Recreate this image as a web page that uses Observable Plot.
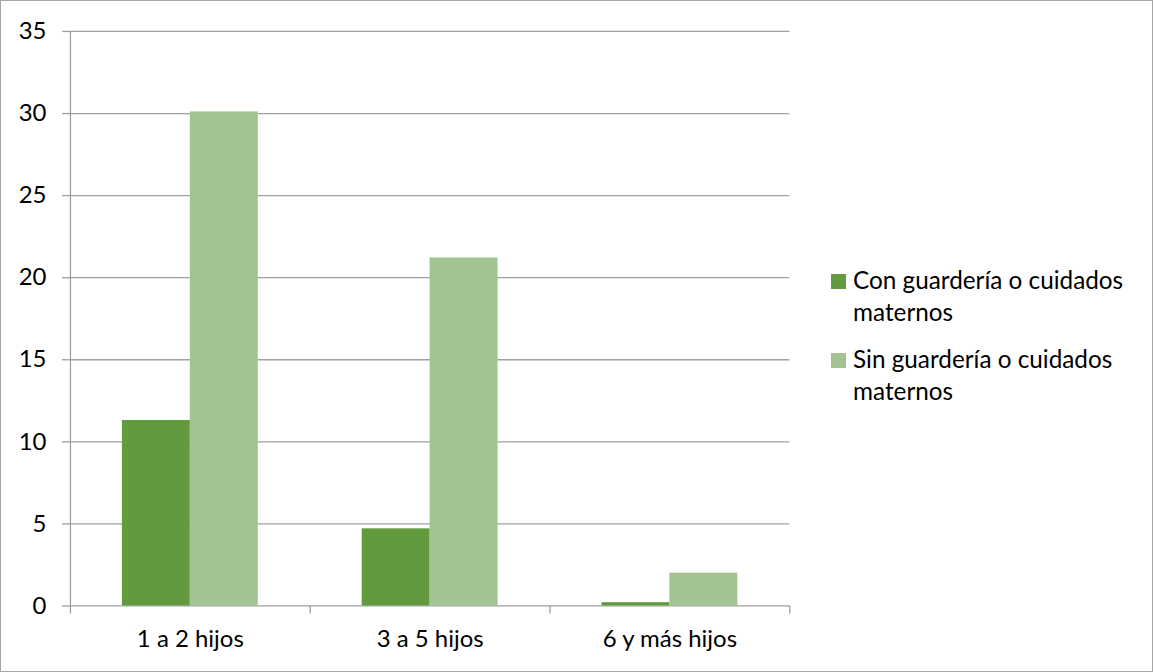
<!DOCTYPE html>
<html>
<head>
<meta charset="utf-8">
<script src="https://cdn.jsdelivr.net/npm/d3@7"></script>
<script src="https://cdn.jsdelivr.net/npm/@observablehq/plot@0.6"></script>
<style>
  html, body { margin: 0; padding: 0; background: #fff; }
  #wrap { position: relative; width: 1153px; height: 672px; box-sizing: border-box; border: 1px solid #a6a6a6; overflow: hidden; }
  #chart { position: absolute; left: -1px; top: -1px; }
  #legend { position: absolute; left: 830px; top: 263px; font-family: Lato, "Open Sans", sans-serif; font-size: 24.3px; color: #000; }
  .item { display: flex; align-items: flex-start; margin-bottom: 15px; }
  .sw { width: 15px; height: 15px; margin-right: 7px; margin-top: 10px; flex: none; }
  .lab { line-height: 32px; width: 310px; }
</style>
</head>
<body>
<div id="wrap"><div id="chart"></div><div id="legend"></div></div>
<script>
const categories = ["1 a 2 hijos", "3 a 5 hijos", "6 y más hijos"];
const conGuarderia = [11.3, 4.7, 0.2];
const sinGuarderia = [30.1, 21.2, 2.0];
const seriesNames = ["Con guardería o cuidados maternos", "Sin guardería o cuidados maternos"];
const seriesColors = ["#629B3E", "#A3C490"];
const yTicks = [0, 5, 10, 15, 20, 25, 30, 35];

const rowsCon = categories.map((c, i) => ({category: c, value: conGuarderia[i]}));
const rowsSin = categories.map((c, i) => ({category: c, value: sinGuarderia[i]}));
const lineColor = "#a0a0a0";

const chart = Plot.plot({
  width: 1153,
  height: 672,
  marginLeft: 70,
  marginRight: 363,
  marginTop: 31,
  marginBottom: 66,
  style: {fontFamily: "Lato, 'Open Sans', sans-serif", fontSize: "24px", color: "#000", background: "#fff"},
  x: {domain: categories, padding: 0, label: null},
  y: {domain: [0, 35], label: null},
  marks: [
    Plot.ruleY(yTicks, {stroke: lineColor, strokeWidth: 1.3}),
    Plot.barY(rowsCon, {x: "category", y: "value", fill: seriesColors[0], insetLeft: 52, insetRight: 120}),
    Plot.barY(rowsSin, {x: "category", y: "value", fill: seriesColors[1], insetLeft: 120, insetRight: 52}),
    Plot.ruleX([categories[0]], {x: d => d, y1: 0, y2: 35, dx: -120, stroke: lineColor, strokeWidth: 1.3}),
    Plot.ruleX(categories, {x: d => d, y1: 0, y2: 0, dx: -120, insetBottom: -8, stroke: lineColor, strokeWidth: 1.3}),
    Plot.ruleX([categories[categories.length - 1]], {x: d => d, y1: 0, y2: 0, dx: 120, insetBottom: -8, stroke: lineColor, strokeWidth: 1.3}),
    Plot.axisY({ticks: yTicks, tickSize: 8, tickPadding: 16, stroke: lineColor, strokeWidth: 1.3, fontSize: 24}),
    Plot.axisX({tickSize: 0, tickPadding: 24, fontSize: 24})
  ]
});
document.getElementById("chart").appendChild(chart);

const legend = document.getElementById("legend");
seriesNames.forEach((name, i) => {
  const item = document.createElement("div");
  item.className = "item";
  const sw = document.createElement("div");
  sw.className = "sw";
  sw.style.background = seriesColors[i];
  const lab = document.createElement("div");
  lab.className = "lab";
  const words = name.split(" ");
  lab.innerHTML = words.slice(0, 4).join(" ") + "<br>" + words.slice(4).join(" ");
  item.appendChild(sw);
  item.appendChild(lab);
  legend.appendChild(item);
});
</script>
</body>
</html>
